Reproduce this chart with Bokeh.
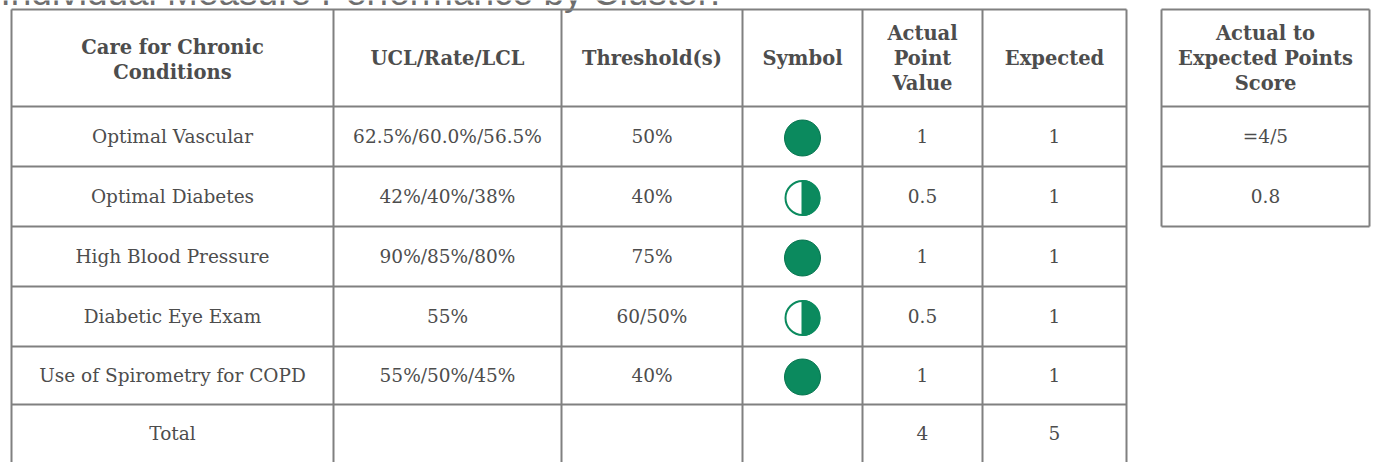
from bokeh.plotting import figure
from bokeh.models import Range1d
from bokeh.embed import file_html
from bokeh.resources import INLINE
from bokeh.core.properties import value

# ---------------- data ----------------
title_text = "Individual Measure Performance by Cluster:"
main_headers = ["Care for Chronic\nConditions", "UCL/Rate/LCL", "Threshold(s)",
                "Symbol", "Actual\nPoint\nValue", "Expected"]
measures = ["Optimal Vascular", "Optimal Diabetes", "High Blood Pressure",
            "Diabetic Eye Exam", "Use of Spirometry for COPD"]
ucl_rate_lcl = ["62.5%/60.0%/56.5%", "42%/40%/38%", "90%/85%/80%", "55%", "55%/50%/45%"]
thresholds = ["50%", "40%", "75%", "60/50%", "40%"]
actual_points = [1, 0.5, 1, 0.5, 1]
expected_points = [1, 1, 1, 1, 1]
total_label = "Total"
score_header = "Actual to\nExpected Points\nScore"
score_cells = ["=4/5", "0.8"]

# ---------------- layout ----------------
W, H = 1374, 462
col_edges = [11, 333, 561, 742, 862, 982, 1126]
row_edges = [9, 106, 166, 226, 286, 346, 404]
bottom = 470
score_edges_x = [1161, 1369]
score_rows = [9, 106, 166, 226]

LINE = "#808080"
TXT = "#4d4d4d"
GREEN = "#0b8a5e"
GREEN_EDGE = "#087550"
SERIF = value("DejaVu Serif")

p = figure(width=W, height=H, x_range=Range1d(0, W), y_range=Range1d(H, 0),
           output_backend="svg", toolbar_location=None, min_border=0,
           x_axis_type=None, y_axis_type=None)
p.grid.visible = False
p.outline_line_color = None
p.background_fill_color = "white"
p.border_fill_color = "white"

# title (cut off at top like the reference)
p.text(x=[0], y=[-8], text=[title_text], text_font=value("Liberation Sans"),
       text_font_size="37px", text_color="#6e6e6e", text_baseline="alphabetic",
       text_align="left")

# grid lines main table
x0s, y0s, x1s, y1s = [], [], [], []
for x in col_edges:
    x0s.append(x); x1s.append(x); y0s.append(row_edges[0]); y1s.append(bottom)
for y in row_edges:
    x0s.append(col_edges[0]); x1s.append(col_edges[-1]); y0s.append(y); y1s.append(y)
# score table
for x in score_edges_x:
    x0s.append(x); x1s.append(x); y0s.append(score_rows[0]); y1s.append(score_rows[-1])
for y in score_rows:
    x0s.append(score_edges_x[0]); x1s.append(score_edges_x[1]); y0s.append(y); y1s.append(y)
p.segment(x0=x0s, y0=y0s, x1=x1s, y1=y1s, line_color=LINE, line_width=2)

col_c = [(col_edges[i] + col_edges[i + 1]) / 2 for i in range(len(col_edges) - 1)]
row_c = [(row_edges[i] + row_edges[i + 1]) / 2 for i in range(len(row_edges) - 1)]
total_c = 433
score_c = (score_edges_x[0] + score_edges_x[1]) / 2
OFF = -0.5  # baseline offset from cell centre

# headers
hx, hy, ht = [], [], []
def add_header(lines_text, cx):
    lines = lines_text.split("\n")
    n = len(lines)
    base = 57.5 + (2 if n == 2 else 0)
    for k, t in enumerate(lines):
        hx.append(cx); hy.append(base + (k - (n - 1) / 2) * 25); ht.append(t)
for j, h in enumerate(main_headers):
    add_header(h, col_c[j])
add_header(score_header, score_c)
p.text(x=hx, y=hy, text=ht, text_font=SERIF, text_font_style="bold",
       text_font_size="19.5px", text_color=TXT, text_align="center",
       text_baseline="alphabetic")

def fmt(v):
    return ("%g" % v)

# body cells
bx, by, bt = [], [], []
for i in range(len(measures)):
    yb = row_c[i + 1] + OFF
    for j, t in [(0, measures[i]), (1, ucl_rate_lcl[i]), (2, thresholds[i]),
                 (4, fmt(actual_points[i])), (5, fmt(expected_points[i]))]:
        bx.append(col_c[j]); by.append(yb); bt.append(t)
# total row
for j, t in [(0, total_label), (4, fmt(sum(actual_points))), (5, fmt(sum(expected_points)))]:
    bx.append(col_c[j]); by.append(total_c + OFF); bt.append(t)
# score table cells
for k, t in enumerate(score_cells):
    bx.append(score_c); by.append((score_rows[k + 1] + score_rows[k + 2]) / 2 + OFF); bt.append(t)
p.text(x=bx, y=by, text=bt, text_font=SERIF, text_font_size="18.5px",
       text_color=TXT, text_align="center", text_baseline="alphabetic")

# symbols
full_x, full_y, half_x, half_y = [], [], [], []
for i, v in enumerate(actual_points):
    cy = row_c[i + 1] + 1.5
    if v >= 1:
        full_x.append(col_c[3]); full_y.append(cy)
    else:
        half_x.append(col_c[3]); half_y.append(cy)
R = 18
p.circle(x=full_x, y=full_y, radius=R, fill_color=GREEN, line_color=GREEN_EDGE, line_width=1)
p.circle(x=half_x, y=half_y, radius=R - 1, fill_color="white", line_color=GREEN, line_width=2)
p.wedge(x=half_x, y=half_y, radius=R - 1, start_angle=-1.5708, end_angle=1.5708,
        fill_color=GREEN, line_color=GREEN, line_width=2)

html = file_html(p, INLINE, title="Individual Measure Performance by Cluster")
html = html.replace("</head>", "<style>html,body{margin:0;padding:0;overflow:hidden;}</style></head>", 1)
open("out.html", "w").write(html)
